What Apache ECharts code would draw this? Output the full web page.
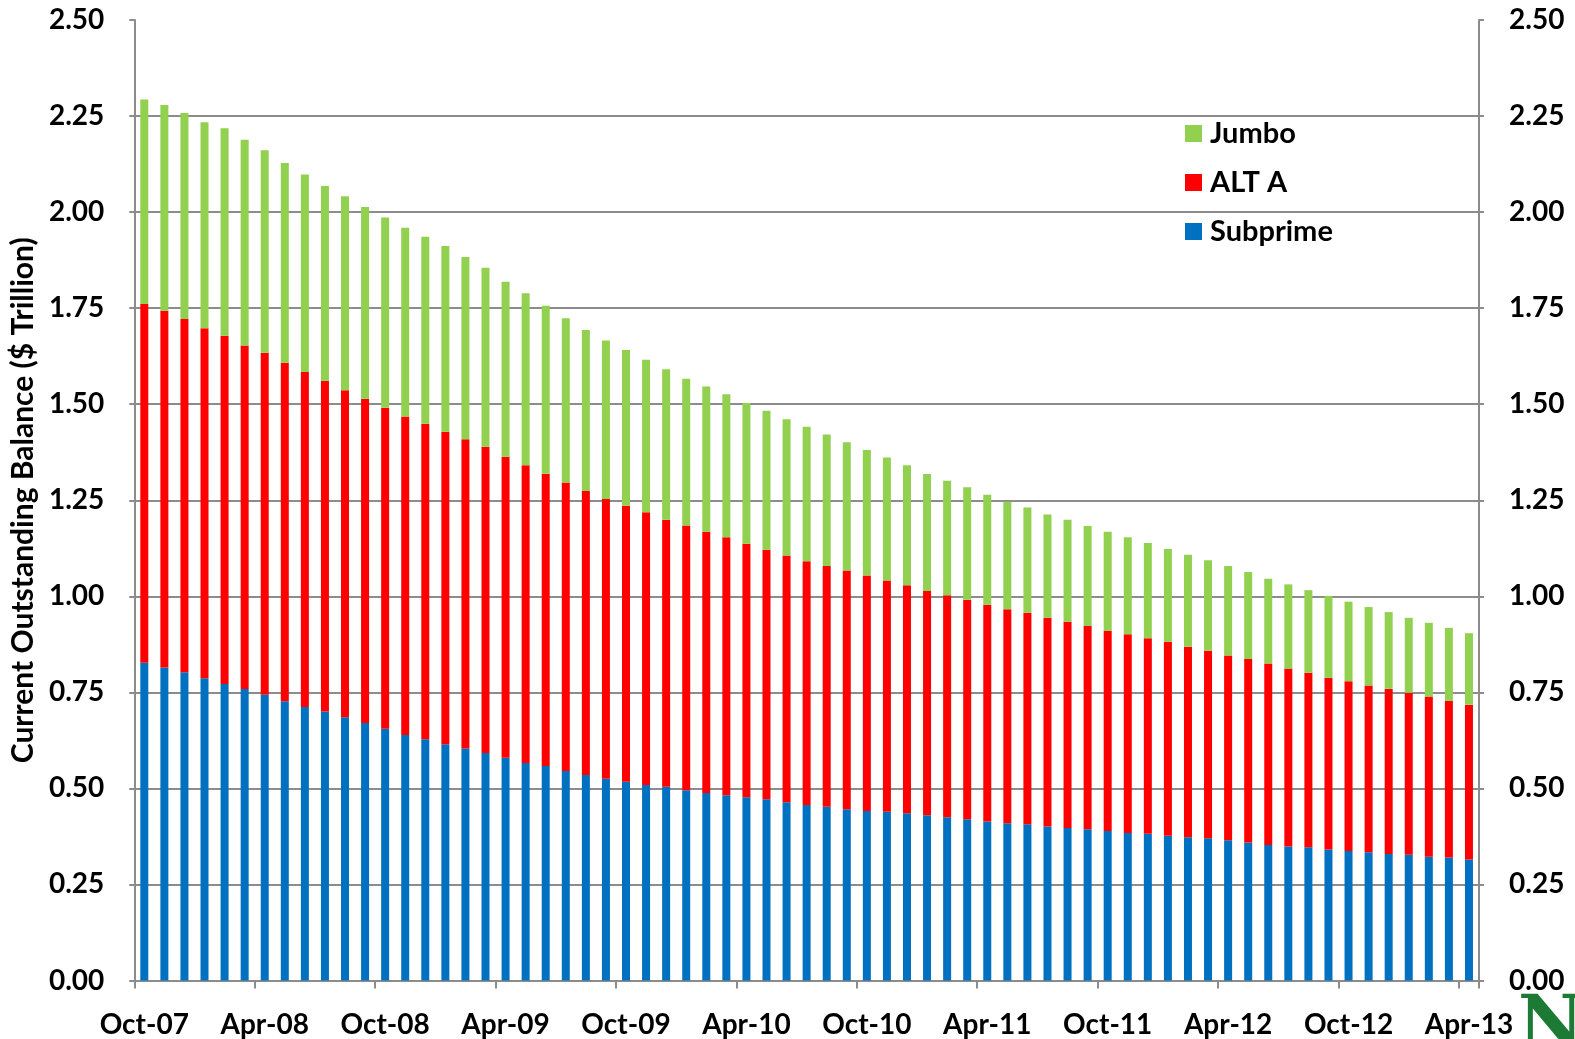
<!DOCTYPE html>
<html>
<head>
<meta charset="utf-8">
<script src="https://cdn.jsdelivr.net/npm/echarts@6/dist/echarts.min.js"></script>
<style>
html,body{margin:0;padding:0;background:#fff;}
#chart{width:1575px;height:1039px;}
</style>
</head>
<body>
<div id="chart"></div>
<script>
const categories = [
 'Oct-07','Nov-07','Dec-07',
 'Jan-08','Feb-08','Mar-08','Apr-08','May-08','Jun-08','Jul-08','Aug-08','Sep-08','Oct-08','Nov-08','Dec-08',
 'Jan-09','Feb-09','Mar-09','Apr-09','May-09','Jun-09','Jul-09','Aug-09','Sep-09','Oct-09','Nov-09','Dec-09',
 'Jan-10','Feb-10','Mar-10','Apr-10','May-10','Jun-10','Jul-10','Aug-10','Sep-10','Oct-10','Nov-10','Dec-10',
 'Jan-11','Feb-11','Mar-11','Apr-11','May-11','Jun-11','Jul-11','Aug-11','Sep-11','Oct-11','Nov-11','Dec-11',
 'Jan-12','Feb-12','Mar-12','Apr-12','May-12','Jun-12','Jul-12','Aug-12','Sep-12','Oct-12','Nov-12','Dec-12',
 'Jan-13','Feb-13','Mar-13','Apr-13'
];

const subprime = [
 0.827,0.815,0.802,0.787,0.772,0.759,0.744,0.727,0.712,0.700,
 0.685,0.670,0.655,0.639,0.628,0.615,0.604,0.592,0.580,0.566,
 0.558,0.545,0.535,0.525,0.517,0.509,0.504,0.495,0.488,0.482,
 0.477,0.472,0.464,0.457,0.452,0.446,0.441,0.439,0.435,0.430,
 0.425,0.420,0.414,0.409,0.407,0.401,0.397,0.394,0.389,0.384,
 0.382,0.377,0.373,0.370,0.365,0.359,0.353,0.349,0.347,0.341,
 0.337,0.334,0.329,0.327,0.322,0.320,0.315
];

const altA = [
 0.934,0.928,0.920,0.911,0.906,0.894,0.890,0.881,0.872,0.861,
 0.851,0.844,0.836,0.829,0.821,0.813,0.805,0.797,0.783,0.775,
 0.761,0.751,0.739,0.728,0.719,0.710,0.695,0.689,0.680,0.672,
 0.660,0.649,0.642,0.634,0.627,0.621,0.613,0.602,0.594,0.584,
 0.578,0.571,0.564,0.557,0.550,0.543,0.537,0.529,0.521,0.517,
 0.509,0.505,0.496,0.488,0.481,0.478,0.472,0.463,0.454,0.447,
 0.442,0.434,0.430,0.422,0.417,0.408,0.403
];

const jumbo = [
 0.532,0.536,0.536,0.536,0.540,0.535,0.527,0.520,0.514,0.507,
 0.505,0.499,0.495,0.491,0.487,0.484,0.474,0.466,0.456,0.448,
 0.437,0.428,0.419,0.413,0.405,0.397,0.392,0.382,0.378,0.372,
 0.366,0.362,0.355,0.350,0.342,0.334,0.327,0.320,0.312,0.304,
 0.298,0.293,0.286,0.280,0.274,0.269,0.265,0.260,0.258,0.253,
 0.248,0.241,0.239,0.236,0.233,0.226,0.221,0.219,0.215,0.213,
 0.207,0.204,0.200,0.195,0.192,0.190,0.186
];

const yTicks = { min: 0, max: 2.5, interval: 0.25 };
const yAxisTitle = 'Current Outstanding Balance ($ Trillion)';
const colors = { Subprime: '#0070C0', 'ALT A': '#FF0000', Jumbo: '#92D050' };

const FONT = 'Lato';
const chart = echarts.init(document.getElementById('chart'), null, { renderer: 'canvas' });

const yCommon = {
  type: 'value',
  min: yTicks.min, max: yTicks.max, interval: yTicks.interval,
  axisLine: { show: true, lineStyle: { color: '#8c8c8c', width: 2 } },
  axisTick: { show: true, length: 5, lineStyle: { color: '#8c8c8c', width: 2 } },
  axisLabel: {
    fontFamily: FONT, fontWeight: 'bold', fontSize: 28, color: '#000', margin: 30,
    formatter: v => v.toFixed(2)
  }
};

chart.setOption({
  animation: false,
  backgroundColor: '#fff',
  grid: { left: 132, right: 96, top: 20, bottom: 58.5, containLabel: false },
  legend: {
    orient: 'vertical',
    left: 1185, top: 119, padding: 0,
    itemWidth: 17, itemHeight: 17, itemGap: 20,
    icon: 'rect',
    data: ['Jumbo', 'ALT A', 'Subprime'],
    textStyle: { fontFamily: FONT, fontWeight: 'bold', fontSize: 29, color: '#000', padding: [0, 0, 0, 3] }
  },
  xAxis: {
    type: 'category',
    data: categories,
    boundaryGap: true,
    axisLine: { lineStyle: { color: '#8c8c8c', width: 2 } },
    axisTick: { show: true, interval: 5, length: 8, lineStyle: { color: '#8c8c8c', width: 2 } },
    axisLabel: {
      interval: 5, fontFamily: FONT, fontWeight: 'bold', fontSize: 28, color: '#000', margin: 30
    }
  },
  yAxis: [
    Object.assign({}, yCommon, {
      position: 'left',
      name: yAxisTitle,
      nameLocation: 'middle',
      nameGap: 90,
      nameTextStyle: { fontFamily: FONT, fontWeight: 'bold', fontSize: 30, color: '#000' },
      splitLine: { show: true, showMaxLine: false, lineStyle: { color: '#8c8c8c', width: 2 } }
    }),
    Object.assign({}, yCommon, {
      position: 'right',
      splitLine: { show: false }
    })
  ],
  series: [
    { name: 'Subprime', type: 'bar', stack: 'total', data: subprime, barWidth: 8,
      itemStyle: { color: colors['Subprime'] } },
    { name: 'ALT A', type: 'bar', stack: 'total', data: altA, barWidth: 8,
      itemStyle: { color: colors['ALT A'] } },
    { name: 'Jumbo', type: 'bar', stack: 'total', data: jumbo, barWidth: 8,
      itemStyle: { color: colors['Jumbo'] } }
  ],
  graphic: [
    { type: 'text', left: 1518, top: 992,
      style: { text: 'N', fontFamily: 'DejaVu Serif', fontWeight: 'bold', fontSize: 72, fill: '#1c7a34' } }
  ]
});
</script>
</body>
</html>
